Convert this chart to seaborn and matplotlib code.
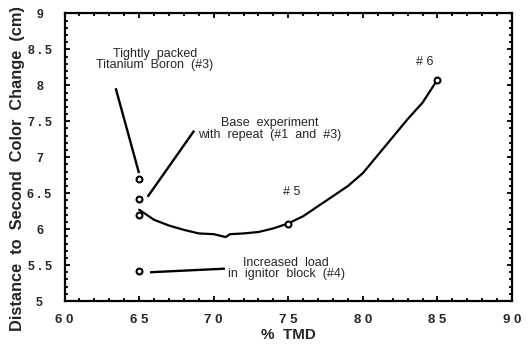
import matplotlib
matplotlib.use("Agg")
import matplotlib.pyplot as plt
import seaborn as sns
import pandas as pd
from matplotlib.ticker import MultipleLocator

# Data
curve_tmd = [65, 66, 67, 68, 69, 70, 70.8, 71.1, 72, 73, 74, 75, 76, 77, 78, 79, 80, 81, 82, 83, 84, 85]
curve_dist = [6.27, 6.13, 6.05, 5.99, 5.94, 5.93, 5.89, 5.93, 5.94, 5.96, 6.01, 6.08, 6.18, 6.32, 6.46, 6.60,
              6.78, 7.03, 7.28, 7.53, 7.76, 8.08]
point_tmd = [65, 65, 65, 65, 75, 85]
point_dist = [6.70, 6.42, 6.20, 5.42, 6.07, 8.07]

x_ticks = [60, 65, 70, 75, 80, 85, 90]
x_tick_labels = ["6 0", "6 5", "7 0", "7 5", "8 0", "8 5", "9 0"]
y_ticks = [5, 5.5, 6, 6.5, 7, 7.5, 8, 8.5, 9]
y_tick_labels = ["5", "5 . 5", "6", "6 . 5", "7", "7 . 5", "8", "8 . 5", "9"]

annotations = [
    ("Tightly  packed\nTitanium  Boron  (#3)", 66.05, 8.36),
    ("Base  experiment\nwith  repeat  (#1  and  #3)", 73.75, 7.39),
    ("Increased  load\nin  ignitor  block  (#4)", 74.85, 5.45),
    ("# 5", 75.2, 6.52),
    ("# 6", 84.15, 8.33),
]
leaders = [
    ((63.43, 7.96), (64.99, 6.78)),
    ((68.69, 7.37), (65.57, 6.45)),
    ((65.73, 5.40), (70.75, 5.45)),
]

sns.set_style("ticks")
plt.rcParams["font.family"] = ["Liberation Sans", "DejaVu Sans"]

fig = plt.figure(figsize=(5.29, 3.54), dpi=100)
ax = fig.add_axes([0.122, 0.1497, 0.846, 0.8122])

curve_df = pd.DataFrame({"tmd": curve_tmd, "dist": curve_dist})
pts_df = pd.DataFrame({"tmd": point_tmd, "dist": point_dist})

sns.lineplot(data=curve_df, x="tmd", y="dist", ax=ax, color="black", lw=1.6, sort=False)
sns.scatterplot(data=pts_df, x="tmd", y="dist", ax=ax, marker="o", s=18,
                facecolor="white", edgecolor="black", linewidth=1.5, zorder=5)

for (x0, y0), (x1, y1) in leaders:
    ax.plot([x0, x1], [y0, y1], color="black", lw=1.7, solid_capstyle="butt")

for txt, x, y in annotations:
    ax.text(x, y, txt, ha="center", va="center", fontsize=9, linespacing=0.95)

ax.set_xlim(60, 90)
ax.set_ylim(5, 9)
ax.set_xticks(x_ticks)
ax.set_xticklabels(x_tick_labels, fontweight="bold", fontsize=9.5)
ax.set_yticks(y_ticks)
ax.set_yticklabels(y_tick_labels, fontweight="bold", fontsize=8.8, ha="center")
ax.xaxis.set_minor_locator(MultipleLocator(1))
ax.yaxis.set_minor_locator(MultipleLocator(0.1))

ax.tick_params(which="both", direction="in", top=True, right=True, width=1.3, color="black")
ax.tick_params(which="major", length=3.5)
ax.tick_params(which="minor", length=2)
ax.tick_params(axis="x", which="major", pad=9)
ax.tick_params(axis="y", which="major", pad=18)

for s in ax.spines.values():
    s.set_linewidth(1.6)
    s.set_color("black")
    s.set_visible(True)

ax.set_xlabel("%  TMD", fontweight="bold", fontsize=11, labelpad=2)
ax.set_ylabel("Distance  to  Second  Color  Change  (cm)", fontweight="bold", fontsize=11.8, labelpad=4)
ax.yaxis.set_label_coords(-0.088, 0.46)

fig.savefig("out.png", dpi=100)
